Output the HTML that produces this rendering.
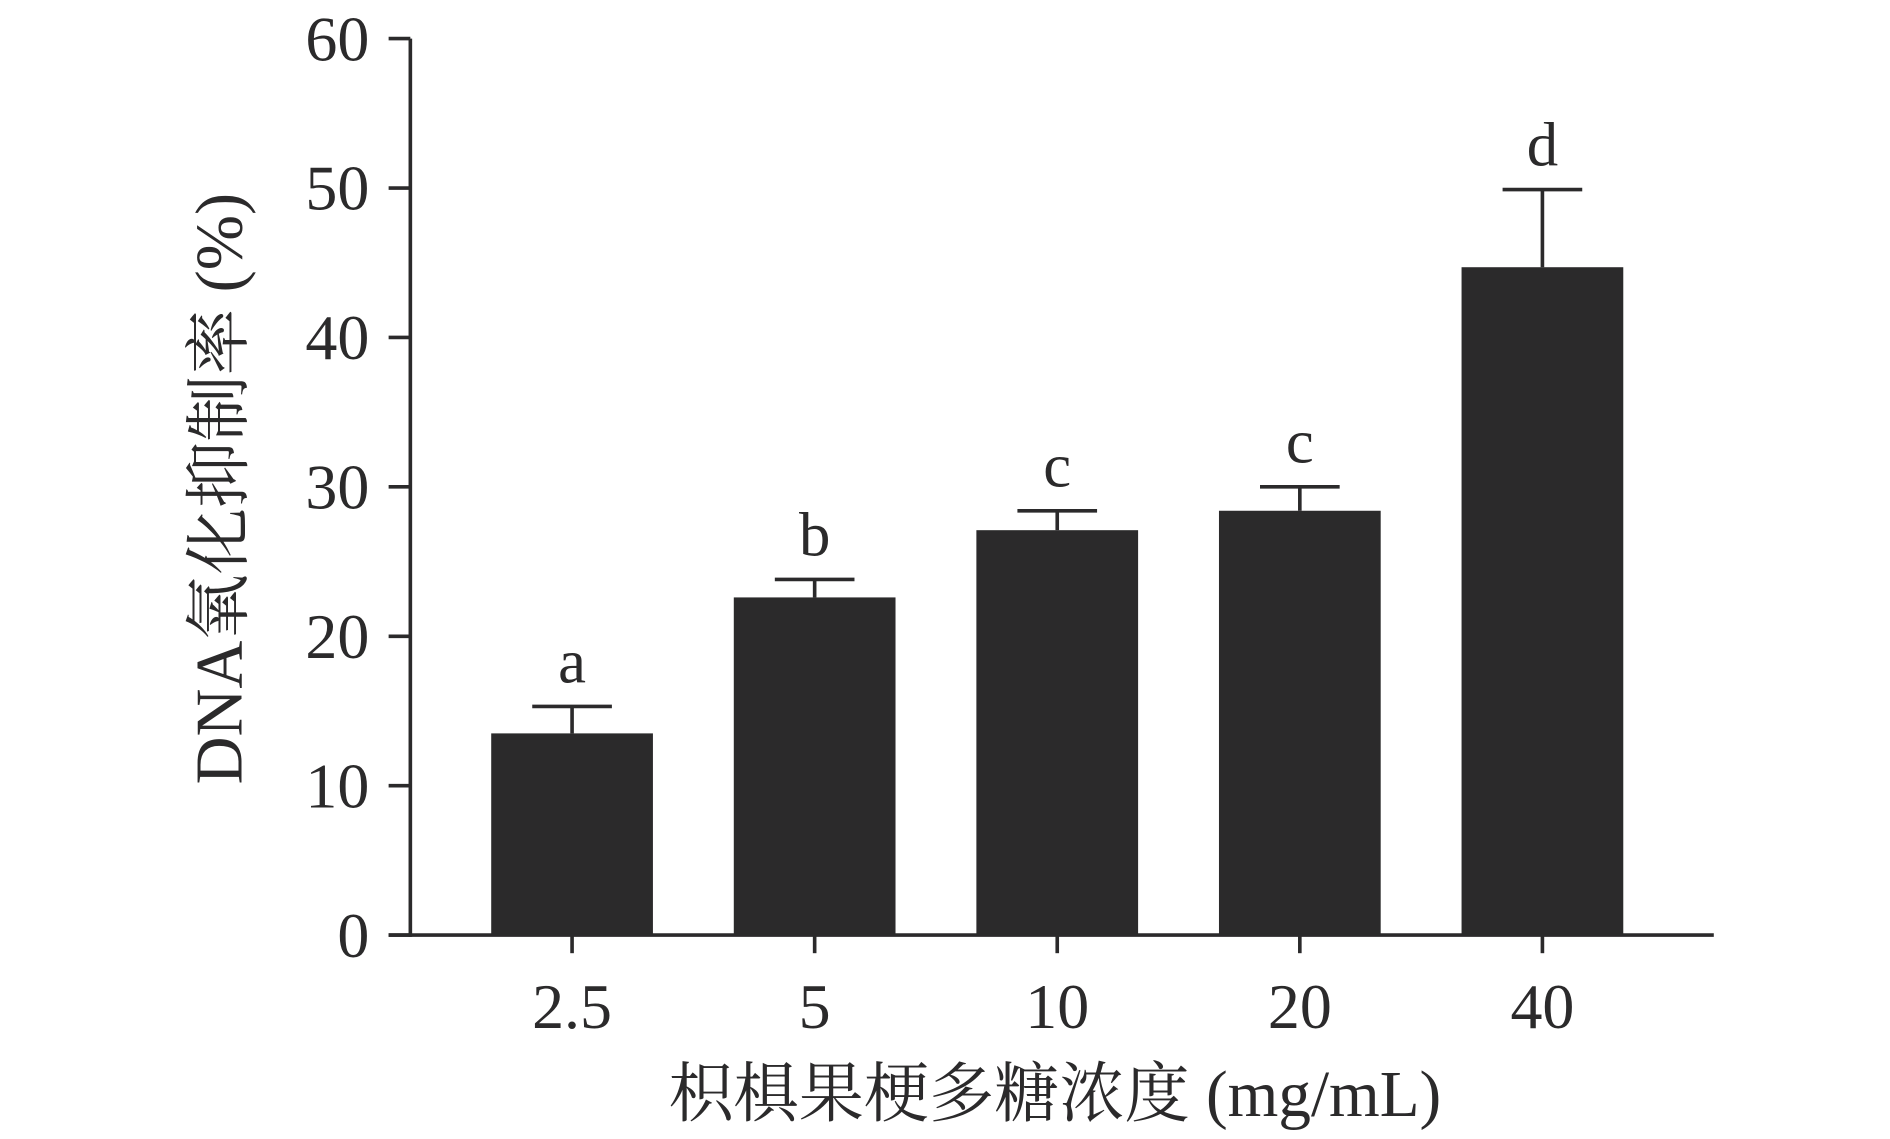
<!DOCTYPE html>
<html><head><meta charset="utf-8"><style>
html,body{margin:0;padding:0;background:#fff;}
svg{display:block;}
text{font-family:"Liberation Serif","Noto Serif CJK SC",serif;fill:#2b2a2b;}
</style></head>
<body>
<svg id="chart" width="1890" height="1139" viewBox="0 0 1566 944" preserveAspectRatio="none" xmlns="http://www.w3.org/2000/svg"></svg>
<script>
const categories = ["2.5","5","10","20","40"];
const values = [13.5, 22.6, 27.1, 28.4, 44.7];
const errors = [1.8, 1.2, 1.3, 1.6, 5.2];
const letters = ["a","b","c","c","d"];
const yTicks = [0,10,20,30,40,50,60];

const svg = document.getElementById('chart');
const NS = 'http://www.w3.org/2000/svg';
const X0 = 340, X1 = 1420, Y0 = 775, Ytop = 32, YMAX = 60;
const yScale = v => Y0 - (v / YMAX) * (Y0 - Ytop);
const xFirst = 474, xStep = 201;
const xScale = i => xFirst + i * xStep;
const barW = 134;
const col = '#2b2a2b';

function mk(tag, attrs, text) {
  const e = document.createElementNS(NS, tag);
  for (const k in attrs) e.setAttribute(k, attrs[k]);
  if (text !== undefined) e.textContent = text;
  svg.appendChild(e);
  return e;
}

categories.forEach((c, i) => {
  const cx = xScale(i), top = yScale(values[i]), et = yScale(values[i] + errors[i]);
  const b = mk('rect', {x: cx - barW/2, y: top, width: barW, height: Y0 - top, fill: col});
  
  
  const ev = mk('line', {x1: cx, x2: cx, y1: top, y2: et, stroke: col, 'stroke-width': 3});
  
  
  const ec = mk('line', {x1: cx - 33, x2: cx + 33, y1: et, y2: et, stroke: col, 'stroke-width': 3});
  
  
  const lt = mk('text', {x: cx, y: et - 20, 'text-anchor': 'middle', 'font-size': 52}, letters[i]);
  
  
  const tk = mk('line', {x1: cx, x2: cx, y1: Y0, y2: Y0 + 15, stroke: col, 'stroke-width': 3});
  
  
  const tl = mk('text', {x: cx, y: 852, 'text-anchor': 'middle', 'font-size': 53}, c);
  
  
});

const ya = mk('line', {x1: X0, x2: X0, y1: Ytop, y2: Y0 + 1.5, stroke: col, 'stroke-width': 3});


const xa = mk('line', {x1: X0 - 18, x2: X1, y1: Y0, y2: Y0, stroke: col, 'stroke-width': 3});



yTicks.forEach(t => {
  const y = yScale(t);
  const tk = mk('line', {x1: X0 - 18, x2: X0, y1: y, y2: y, stroke: col, 'stroke-width': 3});
  
  
  const tl = mk('text', {x: 306, y: y + 18, 'text-anchor': 'end', 'font-size': 53}, String(t));
  
  
});

const xt = mk('text', {x: 874, y: 925, 'text-anchor': 'middle', 'font-size': 54}, '枳椇果梗多糖浓度 (mg/mL)');


const yt = mk('text', {x: 0, y: 0, 'text-anchor': 'middle', 'font-size': 55, transform: 'translate(200,405) rotate(-90)'}, 'DNA氧化抑制率 (%)');


</script>
</body></html>
